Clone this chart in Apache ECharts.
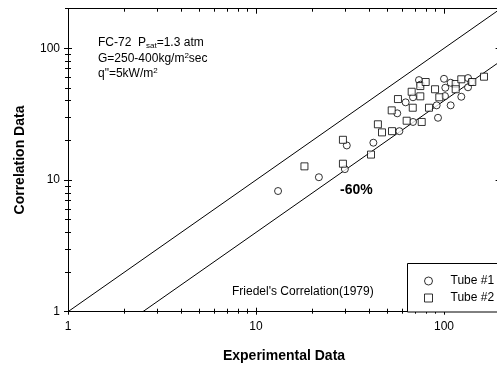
<!DOCTYPE html>
<html><head><meta charset="utf-8">
<script src="https://cdn.jsdelivr.net/npm/echarts@6/dist/echarts.min.js"></script>
<style>html,body{margin:0;padding:0;background:#fff}#c{width:497px;height:367px}</style>
</head><body><div id="c"></div>
<script>
// ---- data ----
const majorTicks = [1, 10, 100];
const minorTicks = [2,3,4,5,6,7,8,9,20,30,40,50,60,70,80,90,200];
const tube1 = [[13.1,8.25],[21.6,10.5],[29.7,12.1],[30.4,18.3],[42.1,19.2],[57.9,23.5],[68.4,27.6],[56.4,32.1],[62.5,38.9],[68.4,42.5],[73.6,57.4],[75,53],[91.4,36.9],[92.9,29.7],[100,58.7],[101.6,50.2],[101.2,43.4],[108.5,54.8],[108.5,36.9],[123.6,42.9],[134.2,59.5],[134.2,50.6],[139.7,55.5]];
const tube2 = [[18.1,12.7],[29.0,20.2],[29.0,13.3],[40.9,15.6],[44.5,26.5],[46.8,23.0],[52.9,23.5],[52.7,33.8],[56.9,41.2],[63.3,28.2],[68.2,35.4],[67.3,46.8],[74.8,43.2],[76.1,27.6],[74.8,51.7],[79.9,55.5],[83.2,35.4],[89.6,48.9],[94.4,42.5],[115.4,53.6],[115.4,48.9],[123.6,58.2],[141.4,55.5],[163.2,60.9]];
const perfectLine = [[1,1],[200,200]];
const minus60Line = [[2.5,1],[200,80]];
const axisMin = 1, axisMax = 200;

const FONT = 'Liberation Sans, Arial, sans-serif';
const chart = echarts.init(document.getElementById('c'), null, {renderer:'canvas'});
const G = {left:68, top:8.7, width:432.6, height:303, outerBoundsMode:'none'};
function ax(gi, pos, ticks, len, inside, line, labels, margin) {
  return {
    type:'log', logBase:10, min:axisMin, max:axisMax, gridIndex:gi, position:pos,
    splitLine:{show:false},
    axisLine:{show:line, onZero:false, lineStyle:{color:'#000', width:1}},
    axisTick:{show:true, customValues:ticks, length:len, inside:inside, lineStyle:{color:'#000', width:1}},
    axisLabel: labels ? {show:true, customValues:majorTicks, margin:margin, color:'#000', fontSize:12, fontFamily:FONT} : {show:false}
  };
}
const option = {
  animation:false,
  backgroundColor:'#fff',
  grid:[Object.assign({},G),Object.assign({},G),Object.assign({},G),Object.assign({},G)],
  xAxis:[
    ax(0,'bottom',majorTicks,3,false,true,true,9),
    ax(0,'top',majorTicks,5,true,true,false),
    ax(1,'bottom',majorTicks,4,true,false,false),
    ax(1,'top',minorTicks,3,true,false,false),
    ax(2,'bottom',minorTicks,2,false,false,false),
    ax(3,'bottom',minorTicks,3,true,false,false)
  ],
  yAxis:[
    ax(0,'left',majorTicks,4,false,true,true,8),
    ax(0,'right',majorTicks,5,true,true,false),
    ax(1,'left',majorTicks,4,true,false,false),
    ax(1,'right',minorTicks,3,true,false,false),
    ax(2,'left',minorTicks,3,false,false,false),
    ax(3,'left',minorTicks,3,true,false,false)
  ],
  legend:{
    data:['Tube #1','Tube #2'], orient:'vertical', left:424, top:275, z:20, padding:0,
    itemWidth:8, itemHeight:8, itemGap:5,
    itemStyle:{color:'#fff', borderColor:'#000', borderWidth:1},
    textStyle:{fontSize:12, fontFamily:FONT, color:'#000', padding:[0,0,0,13]}
  },
  series:[
    {type:'line', xAxisIndex:0, yAxisIndex:0, data:perfectLine, showSymbol:false, symbol:'none', silent:true,
     lineStyle:{color:'#000', width:1}, z:1},
    {type:'line', xAxisIndex:0, yAxisIndex:0, data:minus60Line, showSymbol:false, symbol:'none', silent:true,
     lineStyle:{color:'#000', width:1}, z:1},
    {name:'Tube #1', type:'scatter', xAxisIndex:0, yAxisIndex:0, data:tube1, symbol:'circle', symbolSize:7,
     itemStyle:{color:'#fff', borderColor:'#000', borderWidth:1}, z:3},
    {name:'Tube #2', type:'scatter', xAxisIndex:0, yAxisIndex:0, data:tube2, symbol:'rect', symbolSize:7,
     itemStyle:{color:'#fff', borderColor:'#000', borderWidth:1}, z:3}
  ],
  graphic:[
    {type:'rect', left:407, top:263, shape:{x:0,y:0,width:100,height:48.5}, style:{fill:'#fff', stroke:'#000', lineWidth:1}, z:5, silent:true},
    {type:'text', x:98, y:43, z:10, style:{text:'{a|FC-72  P}{s|sat}{a|=1.3 atm}', fill:'#000', verticalAlign:'middle',
      rich:{a:{fontSize:12, fontFamily:FONT, lineHeight:14}, s:{fontSize:8, fontFamily:FONT, verticalAlign:'bottom', lineHeight:14}}}},
    {type:'text', x:98, y:59, z:10, style:{text:'{a|G=250-400kg/m}{u|2}{a|sec}', fill:'#000', verticalAlign:'middle',
      rich:{a:{fontSize:12, fontFamily:FONT, lineHeight:14}, u:{fontSize:8, fontFamily:FONT, verticalAlign:'top', lineHeight:14}}}},
    {type:'text', x:98, y:74, z:10, style:{text:'{a|q"=5kW/m}{u|2}', fill:'#000', verticalAlign:'middle',
      rich:{a:{fontSize:12, fontFamily:FONT, lineHeight:14}, u:{fontSize:8, fontFamily:FONT, verticalAlign:'top', lineHeight:14}}}},
    {type:'text', x:340, y:190, z:10, style:{text:'-60%', font:'bold 14px '+FONT, fill:'#000', verticalAlign:'middle'}},
    {type:'text', x:232, y:292, z:10, style:{text:"Friedel's Correlation(1979)", font:'12px '+FONT, fill:'#000', verticalAlign:'middle'}},
    {type:'text', x:284, y:356, z:10, style:{text:'Experimental Data', font:'bold 14px '+FONT, fill:'#000', align:'center', verticalAlign:'middle'}},
    {type:'text', x:20, y:160, rotation:Math.PI/2, z:10, style:{text:'Correlation Data', font:'bold 14px '+FONT, fill:'#000', align:'center', verticalAlign:'middle'}}
  ]
};
chart.setOption(option);
</script></body></html>
